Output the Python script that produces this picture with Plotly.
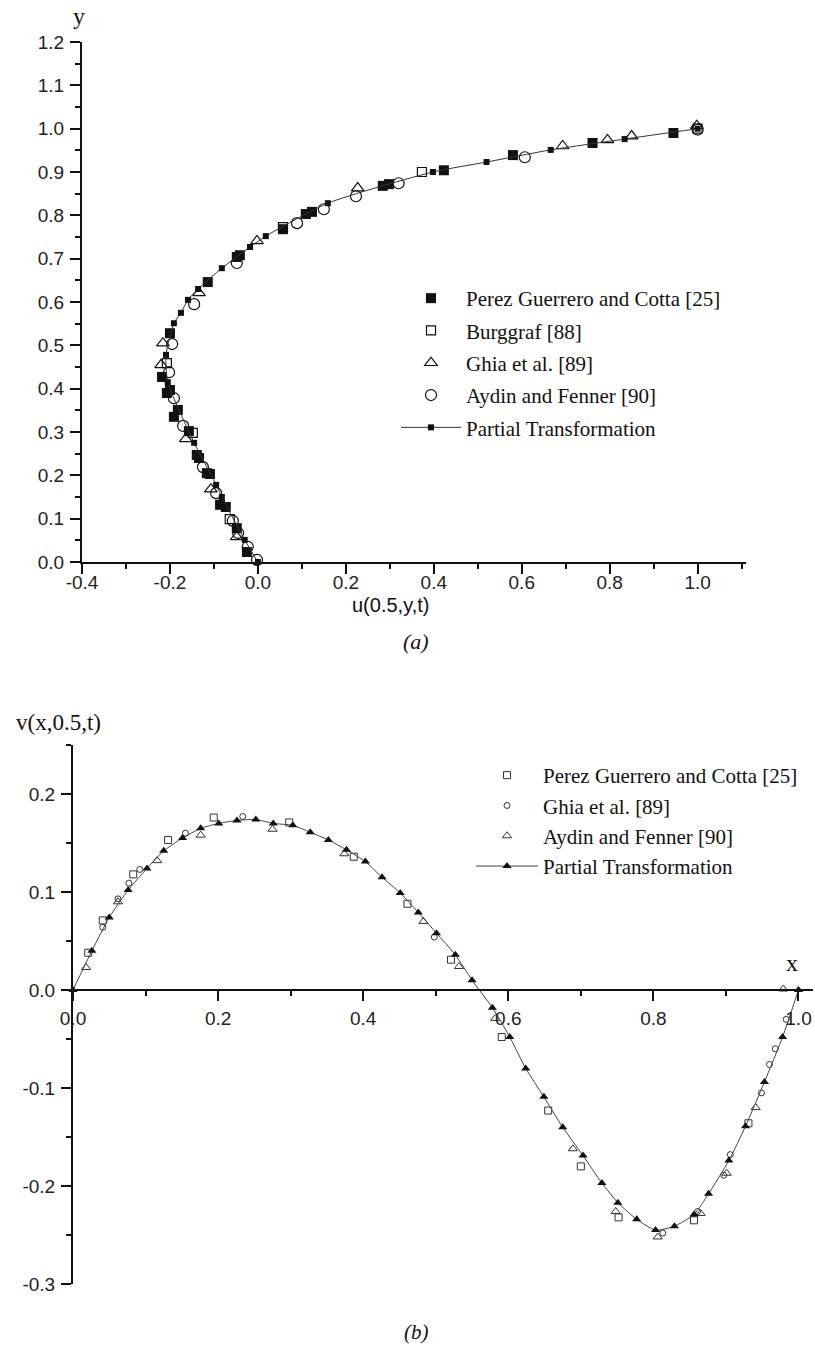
import plotly.graph_objects as go

# ---------------- (a) horizontal velocity along the vertical centreline ----------------
pgc_u = [-0.025, -0.048, -0.073, -0.086, -0.109, -0.116, -0.134, -0.139, -0.157, -0.191, -0.182,
         -0.207, -0.200, -0.218, -0.200, -0.114, -0.048, -0.041, 0.057, 0.109, 0.123, 0.284, 0.298,
         0.423, 0.580, 0.761, 0.945]
pgc_y = [0.023, 0.078, 0.127, 0.132, 0.203, 0.205, 0.240, 0.247, 0.302, 0.335, 0.351,
         0.390, 0.397, 0.427, 0.528, 0.646, 0.704, 0.708, 0.768, 0.803, 0.808, 0.868, 0.872,
         0.904, 0.939, 0.967, 0.990]

burg_u = [-0.064, -0.148, -0.207, 0.057, 0.373, 1.000]
burg_y = [0.099, 0.298, 0.459, 0.773, 0.900, 1.000]

ghia_u = [-0.048, -0.107, -0.164, -0.220, -0.216, -0.134, -0.002, 0.227, 0.693, 0.795, 0.850, 0.998]
ghia_y = [0.058, 0.168, 0.284, 0.455, 0.505, 0.621, 0.741, 0.863, 0.960, 0.974, 0.983, 1.007]

aydin_u = [-0.002, -0.023, -0.045, -0.057, -0.095, -0.125, -0.170, -0.191, -0.202, -0.195,
           -0.145, -0.048, 0.089, 0.150, 0.223, 0.320, 0.607, 1.000]
aydin_y = [0.005, 0.035, 0.067, 0.095, 0.159, 0.219, 0.314, 0.378, 0.438, 0.503,
           0.595, 0.690, 0.782, 0.814, 0.844, 0.874, 0.934, 0.998]

pt_u = [0.000, -0.030, -0.082, -0.095, -0.145, -0.205, -0.209, -0.191, -0.175, -0.159, -0.136,
        -0.082, -0.018, 0.018, 0.159, 0.398, 0.520, 0.666, 0.834, 1.000]
pt_y = [0.000, 0.051, 0.150, 0.178, 0.275, 0.415, 0.478, 0.551, 0.575, 0.605, 0.630,
        0.678, 0.727, 0.752, 0.828, 0.900, 0.923, 0.951, 0.976, 1.000]

a_xtick_vals = [-0.4, -0.2, 0.0, 0.2, 0.4, 0.6, 0.8, 1.0]
a_xtick_text = ["-0.4", "-0.2", "0.0", "0.2", "0.4", "0.6", "0.8", "1.0"]
a_ytick_vals = [0.0, 0.1, 0.2, 0.3, 0.4, 0.5, 0.6, 0.7, 0.8, 0.9, 1.0, 1.1, 1.2]
a_ytick_text = ["0.0", "0.1", "0.2", "0.3", "0.4", "0.5", "0.6", "0.7", "0.8", "0.9", "1.0",
                "1.1", "1.2"]

# ---------------- (b) vertical velocity along the horizontal centreline ----------------
pt_x = [0.000, 0.026, 0.050, 0.076, 0.102, 0.125, 0.151, 0.176, 0.201, 0.226, 0.252, 0.276,
        0.303, 0.327, 0.352, 0.377, 0.403, 0.426, 0.451, 0.476, 0.501, 0.527, 0.550, 0.578,
        0.602, 0.624, 0.649, 0.675, 0.703, 0.729, 0.751, 0.777, 0.803, 0.829, 0.856, 0.876,
        0.904, 0.927, 0.953, 0.978, 1.000]
pt_v = [0.000, 0.040, 0.074, 0.102, 0.124, 0.142, 0.155, 0.165, 0.170, 0.173, 0.174, 0.170,
        0.168, 0.161, 0.153, 0.143, 0.131, 0.115, 0.099, 0.079, 0.058, 0.036, 0.010, -0.018,
        -0.048, -0.080, -0.109, -0.140, -0.169, -0.197, -0.217, -0.234, -0.245, -0.241, -0.229,
        -0.208, -0.174, -0.139, -0.094, -0.048, 0.000]

pgc_x = [0.021, 0.041, 0.083, 0.131, 0.194, 0.298, 0.387, 0.461, 0.521, 0.591, 0.655, 0.700,
         0.752, 0.856, 0.931]
pgc_v = [0.038, 0.071, 0.118, 0.153, 0.176, 0.171, 0.136, 0.088, 0.031, -0.048, -0.123, -0.180,
         -0.232, -0.235, -0.136]

ghia_x = [0.041, 0.062, 0.077, 0.092, 0.155, 0.234, 0.498, 0.813, 0.861, 0.897, 0.906, 0.949,
          0.960, 0.968, 0.983]
ghia_v = [0.064, 0.093, 0.109, 0.123, 0.160, 0.177, 0.054, -0.248, -0.226, -0.189, -0.168, -0.105,
          -0.076, -0.060, -0.030]

aydin_x = [0.018, 0.062, 0.116, 0.176, 0.275, 0.374, 0.483, 0.532, 0.582, 0.689, 0.748, 0.806,
           0.865, 0.901, 0.941, 0.979]
aydin_v = [0.023, 0.090, 0.132, 0.158, 0.164, 0.139, 0.070, 0.024, -0.029, -0.162, -0.226, -0.252,
           -0.228, -0.187, -0.120, 0.001]

b_xtick_vals = [0.0, 0.2, 0.4, 0.6, 0.8, 1.0]
b_xtick_text = ["0.0", "0.2", "0.4", "0.6", "0.8", "1.0"]
b_ytick_vals = [-0.3, -0.2, -0.1, 0.0, 0.1, 0.2]
b_ytick_text = ["-0.3", "-0.2", "-0.1", "0.0", "0.1", "0.2"]

SERIF = "Liberation Serif"
SANS = "Liberation Sans"
INK = "#111111"

fig = go.Figure()

# panel (a)
fig.add_trace(go.Scatter(x=pgc_u, y=pgc_y, mode="markers", name="Perez Guerrero and Cotta [25]",
                         legendgroup="a1", legend="legend",
                         marker=dict(symbol="square", size=10, color=INK), cliponaxis=False))
fig.add_trace(go.Scatter(x=burg_u, y=burg_y, mode="markers", name="Burggraf [88]",
                         legendgroup="a2", legend="legend",
                         marker=dict(symbol="square-open", size=9, color=INK, line=dict(width=1.2)),
                         cliponaxis=False))
fig.add_trace(go.Scatter(x=ghia_u, y=ghia_y, mode="markers", name="Ghia et al. [89]",
                         legendgroup="a3", legend="legend",
                         marker=dict(symbol="triangle-up-open", size=11, color=INK, line=dict(width=1.2)),
                         cliponaxis=False))
fig.add_trace(go.Scatter(x=aydin_u, y=aydin_y, mode="markers", name="Aydin and Fenner [90]",
                         legendgroup="a4", legend="legend",
                         marker=dict(symbol="circle-open", size=11, color=INK, line=dict(width=1.2)),
                         cliponaxis=False))
fig.add_trace(go.Scatter(x=pt_u, y=pt_y, mode="lines+markers", name="Partial Transformation",
                         legendgroup="a5", legend="legend",
                         line=dict(color="#333333", width=1, shape="spline", smoothing=0.6),
                         marker=dict(symbol="square", size=6, color=INK), cliponaxis=False))

# panel (b)
fig.add_trace(go.Scatter(x=pgc_x, y=pgc_v, mode="markers", name="Perez Guerrero and Cotta [25]",
                         legendgroup="b1", legend="legend2", xaxis="x2", yaxis="y2",
                         marker=dict(symbol="square-open", size=7, color="#333333", line=dict(width=1)),
                         cliponaxis=False))
fig.add_trace(go.Scatter(x=ghia_x, y=ghia_v, mode="markers", name="Ghia et al. [89]",
                         legendgroup="b2", legend="legend2", xaxis="x2", yaxis="y2",
                         marker=dict(symbol="circle-open", size=6, color="#333333", line=dict(width=1)),
                         cliponaxis=False))
fig.add_trace(go.Scatter(x=aydin_x, y=aydin_v, mode="markers", name="Aydin and Fenner [90]",
                         legendgroup="b3", legend="legend2", xaxis="x2", yaxis="y2",
                         marker=dict(symbol="triangle-up-open", size=8, color="#333333", line=dict(width=1)),
                         cliponaxis=False))
fig.add_trace(go.Scatter(x=pt_x, y=pt_v, mode="lines+markers", name="Partial Transformation",
                         legendgroup="b4", legend="legend2", xaxis="x2", yaxis="y2",
                         line=dict(color="#444444", width=1, shape="spline", smoothing=0.6),
                         marker=dict(symbol="triangle-up", size=8, color=INK), cliponaxis=False))

W, H = 815, 1348


def px_x(p):
    return p / W


def px_y(p):
    return 1 - p / H


axis_common = dict(showline=True, linewidth=2, linecolor=INK, ticks="outside", ticklen=10,
                   tickwidth=2, tickcolor=INK, showgrid=False, zeroline=False,
                   automargin=False, tickmode="array",
                   tickfont=dict(family=SANS, size=19, color="#222222"))


def minor(step):
    return dict(tickmode="linear", tick0=0, dtick=step, ticklen=5, tickwidth=2,
                tickcolor=INK, ticks="outside")


fig.update_layout(
    width=W, height=H, margin=dict(l=0, r=0, t=0, b=0, autoexpand=False),
    paper_bgcolor="white", plot_bgcolor="white",
    xaxis=dict(domain=[px_x(82), px_x(746)], range=[-0.4, 1.11], anchor="y",
               tickvals=a_xtick_vals, ticktext=a_xtick_text, ticklabelstandoff=-8,
               minor=minor(0.1), **axis_common),
    yaxis=dict(domain=[px_y(562), px_y(42)], range=[0, 1.2], anchor="x",
               tickvals=a_ytick_vals, ticktext=a_ytick_text, ticklabelstandoff=2,
               minor=minor(0.05), **axis_common),
    xaxis2=dict(domain=[px_x(73), px_x(813)], range=[0, 1.02], anchor="free",
                position=px_y(990), tickvals=b_xtick_vals, ticktext=b_xtick_text,
                ticklabelstandoff=1, minor=minor(0.1), **axis_common),
    yaxis2=dict(domain=[px_y(1284), px_y(745)], range=[-0.3, 0.25], anchor="x2",
                tickvals=b_ytick_vals, ticktext=b_ytick_text, ticklabelstandoff=2,
                minor=minor(0.05), **axis_common),
    legend=dict(x=px_x(396), y=px_y(278), xanchor="left", yanchor="top",
                font=dict(family=SERIF, size=21, color=INK), bgcolor="rgba(0,0,0,0)",
                itemwidth=60, tracegroupgap=2, traceorder="grouped"),
    legend2=dict(x=px_x(471), y=px_y(755), xanchor="left", yanchor="top",
                 font=dict(family=SERIF, size=21, color=INK), bgcolor="rgba(0,0,0,0)",
                 itemwidth=62, tracegroupgap=0, traceorder="grouped"),
    showlegend=True,
)

annotations = [
    dict(text="y", x=px_x(79), y=px_y(16), font=dict(family=SERIF, size=24, color=INK)),
    dict(text="u(0.5,y,t)", x=px_x(390), y=px_y(605), font=dict(family=SANS, size=20, color=INK)),
    dict(text="<i>(a)</i>", x=px_x(416), y=px_y(641), font=dict(family=SERIF, size=22, color=INK)),
    dict(text="v(x,0.5,t)", x=px_x(58), y=px_y(722), font=dict(family=SERIF, size=23, color=INK)),
    dict(text="x", x=px_x(792), y=px_y(963), font=dict(family=SERIF, size=24, color=INK)),
    dict(text="<i>(b)</i>", x=px_x(416), y=px_y(1332), font=dict(family=SERIF, size=21, color=INK)),
]
for a in annotations:
    fig.add_annotation(xref="paper", yref="paper", showarrow=False, xanchor="center",
                       yanchor="middle", **a)

fig.write_html("out.html")
